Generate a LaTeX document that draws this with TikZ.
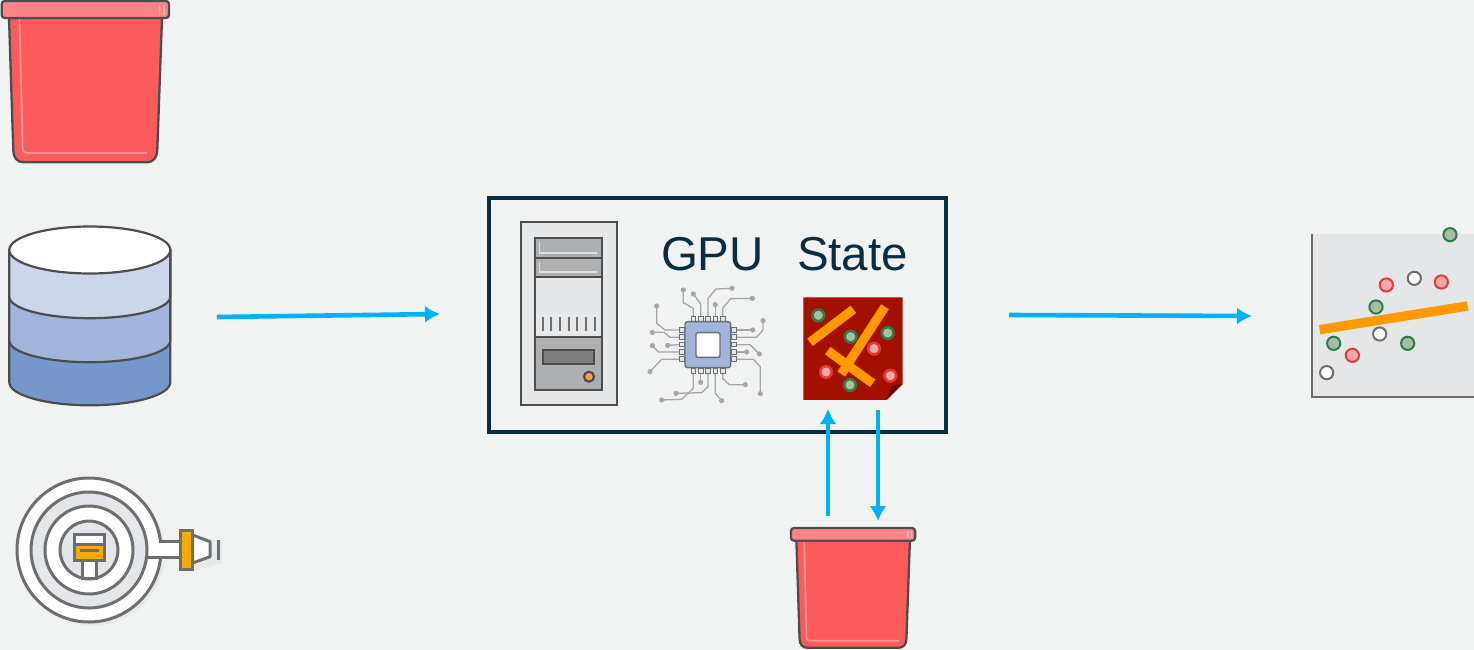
\documentclass[tikz,border=0pt]{standalone}
\usepackage{fontspec}
\setmainfont{Liberation Sans}
\usetikzlibrary{arrows.meta}
\definecolor{bgc}{HTML}{F1F3F3}
\definecolor{framec}{HTML}{0B2D42}
\definecolor{flowc}{HTML}{00B2F5}
\definecolor{outl}{HTML}{4D4D4D}
\definecolor{bucketc}{HTML}{FB5B5B}
\definecolor{rimc}{HTML}{FF8488}
\definecolor{hilite}{HTML}{FF9598}
\definecolor{orangec}{HTML}{FF9900}
\definecolor{hoseg}{HTML}{6E6E6E}
\definecolor{paleg}{HTML}{E3E6EB}
\definecolor{amberc}{HTML}{F8AC00}
\definecolor{stater}{HTML}{A31000}
\definecolor{foldc}{HTML}{6B0A00}
\definecolor{greenr}{HTML}{2E7D46}
\definecolor{greenf}{HTML}{AABDA2}
\definecolor{redr}{HTML}{E8392E}
\definecolor{redf}{HTML}{F7A9AE}
\definecolor{chipb}{HTML}{A1B4DC}
\definecolor{tracec}{HTML}{A6A6A6}
\definecolor{dbA}{HTML}{7597C9}
\definecolor{dbB}{HTML}{A0B4DC}
\definecolor{dbC}{HTML}{CBD6EA}
\definecolor{srvlight}{HTML}{E6E7E8}
\definecolor{srvmid}{HTML}{AEAFB1}
\definecolor{srvline}{HTML}{DCDDDE}
\definecolor{srvbar}{HTML}{7F7F7F}
\definecolor{srvbtn}{HTML}{F7A33A}
\definecolor{chartbg}{HTML}{E4E6E8}
\definecolor{chartax}{HTML}{6B6B6B}
\tikzset{
  flow/.style={draw=flowc,line width=4.6pt,-{Latex[length=15pt,width=17pt]}},
  label text/.style={font=\fontsize{47.5}{47.5}\selectfont,text=framec,inner sep=0pt,anchor=base},
  greendot/.style={draw=greenr,fill=greenf},
  reddot/.style={draw=redr,fill=redf},
  whitedot/.style={draw=hoseg,fill=white},
  trace/.style={draw=tracec,line width=1.3pt},
  tracedot/.style={fill=tracec},
  pad/.style={draw=hoseg,fill=paleg,line width=1pt},
  srv/.style={draw=outl,line width=2.2pt},
  hose/.style={draw=hoseg,line width=3pt},
}
\newcommand{\bucketicon}[3]{%
  \begin{scope}[shift={(#1,#2)},x=#3pt,y=-#3pt]
    \fill[bucketc,draw=outl,line width=2.3pt,line join=round]
      (9,18) -- (13.3,150) .. controls (13.5,158) and (17,162.3) .. (24,162.3)
      -- (147,162.3) .. controls (153,162.3) and (157,158) .. (157.3,150) -- (162,18) -- cycle;
    \draw[hilite,line width=1.7pt,line cap=round]
      (19.5,19) -- (22.7,148) .. controls (22.8,151.5) and (24,153) .. (27,153) -- (146.5,153);
    \fill[rimc,draw=outl,line width=2.3pt,rounded corners=3pt] (1.7,1) rectangle (169,18);
    \draw[hilite!70!white,line width=1.7pt] (159.5,5) -- (159.5,15) (164,5) -- (164,15);
  \end{scope}}
\begin{document}
\begin{tikzpicture}[x=1pt,y=-1pt]
\useasboundingbox (0,0) rectangle (1474,650);
\fill[bgc] (0,0) rectangle (1474,650);
% buckets
\bucketicon{0}{0}{1}
\bucketicon{789.7}{527.3}{0.742}
% database
\begin{scope}[draw=outl,line width=2.2pt]
  \filldraw[fill=dbA] (9.3,250) -- (9.3,382.3) arc[start angle=180,end angle=360,x radius=80.5pt,y radius=23pt] -- (170.3,250) -- cycle;
  \filldraw[fill=dbB] (9.3,250) -- (9.3,340.7) arc[start angle=180,end angle=360,x radius=80.5pt,y radius=21.5pt] -- (170.3,250) -- cycle;
  \filldraw[fill=dbC] (9.3,250) -- (9.3,296.7) arc[start angle=180,end angle=360,x radius=80.5pt,y radius=21.5pt] -- (170.3,250) -- cycle;
  \filldraw[fill=white] (89.8,250) ellipse[x radius=80.5pt,y radius=23.5pt];
\end{scope}
% hose
\fill[paleg!70!bgc] (92,553) circle[radius=73pt];
\fill[paleg!70!bgc] (190,533) -- (222,542) -- (222,563) -- (190,572) -- cycle;
\filldraw[hose,fill=white] (89,550) circle[radius=72pt];
\filldraw[hose,fill=paleg] (89,550) circle[radius=58pt];
\filldraw[hose,fill=white] (89,550) circle[radius=44pt];
\filldraw[hose,fill=paleg] (89,550) circle[radius=29pt];
\fill[white] (148.5,543.2) rectangle (181,555.8);
\draw[hose] (160.7,541.7) -- (180,541.7);
\draw[hose] (147,557.3) -- (180,557.3);
\filldraw[hose,fill=white] (82.7,560) rectangle (96,578);
\filldraw[hose,fill=white] (74.3,534.7) rectangle (104.3,560);
\fill[amberc] (75.5,545) rectangle (103,558.8);
\draw[hose] (75,544.2) -- (104,544.2);
\fill[hoseg] (80,549) rectangle (99,552);
\draw[hose] (74.3,534.7) rectangle (104.3,560);
\filldraw[hose,fill=white,line join=round] (192.7,535) -- (210,541.7) -- (210,556.7) -- (192.7,563) -- cycle;
\filldraw[hose,fill=amberc] (180,530.7) rectangle (192.7,569.3);
\draw[hoseg,line width=3.4pt] (218.3,540) -- (218.3,560);
% main frame
\draw[framec,line width=3.4pt] (489,198) rectangle (946,432);
% server
\filldraw[srv,fill=srvlight] (520.7,222) rectangle (616.7,405);
\filldraw[srv,fill=srvmid] (535,237.7) rectangle (602,257.7);
\filldraw[srv,fill=srvmid] (535,257.7) rectangle (602,277.3);
\filldraw[srv,fill=srvlight] (535,277.3) rectangle (602,336.7);
\filldraw[srv,fill=srvmid] (535,336.7) rectangle (602,390);
\draw[srvline,line width=1.5pt] (539.5,242) -- (539.5,253) -- (597,253) (539.5,262) -- (539.5,272) -- (597,272);
\foreach \tx in {542.7,551.3,560,568.7,577.3,586,594.7}
  \draw[hoseg,line width=2pt] (\tx,317.3) -- (\tx,330.7);
\filldraw[srv,fill=srvbar] (542.7,350) rectangle (594,364);
\filldraw[srv,fill=srvbtn] (589,376.7) circle[radius=5pt];
% labels
\node[label text] (gpu) at (712.5,270.5) {GPU};
\node[label text] (state) at (852.5,270.5) {State};
% chip
\begin{scope}[shift={(640,280)},x=0.3333pt,y=-0.3333pt]
  \foreach \trc in {
    {(160,110) -- (160,85) -- (130,68) -- (130,30)},
    {(182,110) -- (182,72) -- (160,42)},
    {(204,110) -- (204,55) -- (228,27) -- (276,25)},
    {(226,110) -- (226,74)},
    {(248,110) -- (248,85) -- (272,56) -- (337,55)},
    {(118,150) -- (75,150) -- (50,130) -- (50,78)},
    {(118,172) -- (90,172) -- (72,157) -- (37,157)},
    {(118,194) -- (83,196)},
    {(118,216) -- (55,216) -- (37,197)},
    {(118,238) -- (65,238) -- (30,275)},
    {(290,150) -- (338,150)},
    {(290,172) -- (350,172) -- (369,150) -- (369,122)},
    {(290,194) -- (330,194) -- (358,222)},
    {(290,216) -- (320,216)},
    {(290,238) -- (340,238) -- (361,260) -- (361,341)},
    {(160,280) -- (160,325) -- (125,358) -- (65,360)},
    {(182,280) -- (182,307)},
    {(204,280) -- (204,320) -- (185,338) -- (108,340)},
    {(226,280) -- (226,340) -- (245,362)},
    {(248,280) -- (248,295) -- (268,314) -- (316,314)}}
    {\draw[trace] \trc;}
  \foreach \dx/\dy in {130/30,160/42,276/25,226/74,337/55,50/78,37/157,83/196,37/197,30/275,338/150,369/122,358/222,320/216,361/341,65/360,182/307,108/340,245/362,316/314}
    \fill[tracedot] (\dx,\dy) circle[radius=2.6pt];
  \foreach \px in {160,182,204,226,248} {
    \filldraw[pad] (\px-7,110) rectangle (\px+7,125);
    \filldraw[pad] (\px-7,265) rectangle (\px+7,280);
  }
  \foreach \py in {150,172,194,216,238} {
    \filldraw[pad] (118,\py-7) rectangle (134,\py+7);
    \filldraw[pad] (274,\py-7) rectangle (290,\py+7);
  }
  \filldraw[draw=hoseg,fill=chipb,line width=1.4pt,rounded corners=2.5pt] (135,125) rectangle (272,263);
  \filldraw[draw=hoseg,fill=white,line width=1.4pt,rounded corners=1.5pt] (168,158) rectangle (240,232);
\end{scope}
% state icon
\begin{scope}[shift={(780,280)},x=0.3333pt,y=-0.3333pt]
  \fill[stater] (70,52) -- (368,52) -- (368,312) -- (320,360) -- (70,360) -- cycle;
  \fill[foldc] (368,312) -- (335,318) -- (320,360) -- cycle;
  \draw[orangec,line width=9.2pt] (90,187) -- (220,88);
  \draw[orangec,line width=9.2pt] (315,80) -- (184,282);
  \draw[orangec,line width=9.2pt] (143,212) -- (278,310);
  \foreach \dx/\dy in {115/106,212/170,323/159,210/315}
    \filldraw[greendot,line width=2.6pt] (\dx,\dy) circle[radius=5.8pt];
  \foreach \dx/\dy in {282/206,138/276,331/287}
    \filldraw[reddot,line width=2.6pt] (\dx,\dy) circle[radius=5.8pt];
\end{scope}
% chart
\begin{scope}[shift={(1294,220)},x=0.3333pt,y=-0.3333pt]
  \fill[chartbg] (54,42) rectangle (540,532);
  \draw[chartax,line width=2.2pt] (54,42) -- (54,532) -- (540,532);
  \draw[orangec,line width=9.4pt] (77,329) -- (521,258);
  \foreach \dx/\dy in {468/44,246/261,119/370,341/370}
    \filldraw[greendot,line width=2pt] (\dx,\dy) circle[radius=6.6pt];
  \foreach \dx/\dy in {277/195,442/186,175/406}
    \filldraw[reddot,line width=2pt] (\dx,\dy) circle[radius=6.6pt];
  \foreach \dx/\dy in {361/175,257/342,98/458}
    \filldraw[whitedot,line width=2pt] (\dx,\dy) circle[radius=6.6pt];
\end{scope}
% connectors
\coordinate (inA) at (217,317);
\coordinate (inB) at (440,314);
\coordinate (outA) at (1009,315);
\coordinate (outB) at (1252,316);
\coordinate (upA) at (828,516);
\coordinate (upB) at (828,409);
\coordinate (downA) at (878,410);
\coordinate (downB) at (878,521);
\draw[flow] (inA) -- (inB);
\draw[flow] (outA) -- (outB);
\draw[flow] (upA) -- (upB);
\draw[flow] (downA) -- (downB);
\end{tikzpicture}
\end{document}
